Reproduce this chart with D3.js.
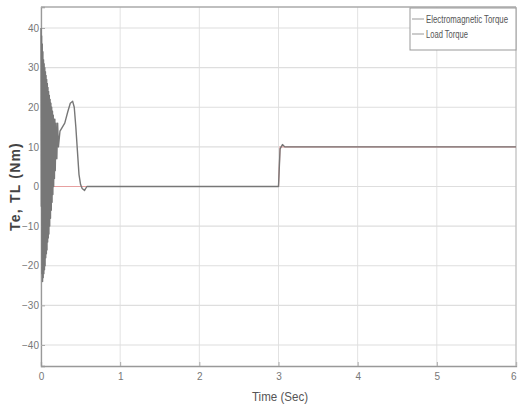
<!DOCTYPE html>
<html>
<head>
<meta charset="utf-8">
<script src="https://cdn.jsdelivr.net/npm/d3@7"></script>
<style>
  body { margin: 0; background: #fff; }
  svg { display: block; font-family: "Liberation Sans", Arial, sans-serif; }
</style>
</head>
<body>
<div id="chart"></div>
<script>
// time (s) and electromagnetic torque (Nm)
var teTime = [0, 0.004, 0.008, 0.012, 0.016, 0.02, 0.024, 0.028, 0.032, 0.036, 0.04, 0.044, 0.048,
  0.052, 0.056, 0.06, 0.064, 0.068, 0.072, 0.076, 0.08, 0.084, 0.088, 0.092, 0.096, 0.1,
  0.105, 0.11, 0.115, 0.12, 0.125, 0.13, 0.135, 0.14, 0.145, 0.15, 0.155, 0.16, 0.165, 0.17,
  0.175, 0.18, 0.19, 0.2, 0.21, 0.22, 0.24, 0.27, 0.3, 0.34, 0.37, 0.4, 0.42, 0.44, 0.46,
  0.48, 0.5, 0.52, 0.55, 0.58, 0.6, 3.0, 3.02, 3.05, 3.08, 6.0];
var teValue = [40, -5, 38, -22, 36, -24, 34, -23, 32, -22, 31, -21, 30,
  -20, 29, -18, 28, -17, 27, -16, 26, -14, 25, -13, 24, -12,
  23, -10, 22, -8, 21, -6, 20, -4, 19, -2, 18, 0, 17, 2,
  17, 4, 16, 7, 16, 10, 14, 15, 16, 19, 21, 21.5, 20, 15, 9,
  3, 0.5, -0.5, -1, 0, 0, 0, 9.5, 10.6, 10, 10];

// load torque
var tlTime = [0, 3.0, 3.02, 6.0];
var tlValue = [0, 0, 10, 10];

var xTicks = [0, 1, 2, 3, 4, 5, 6];
var yTicks = [-40, -30, -20, -10, 0, 10, 20, 30, 40];
var legendLabels = ["Electromagnetic Torque", "Load Torque"];

var W = 519, H = 407;
var margin = {left: 41, right: 3, top: 7, bottom: 41};

var svg = d3.select('#chart').append('svg')
  .attr('width', W).attr('height', H);

var x = d3.scaleLinear().domain([0, 6]).range([margin.left, W - margin.right]);
var y = d3.scaleLinear().domain([-45.3, 45.3]).range([H - margin.bottom, margin.top]);

// grid
svg.append('g').selectAll('line.gx')
  .data(xTicks).enter().append('line')
  .attr('x1', function(d) { return x(d); }).attr('x2', function(d) { return x(d); })
  .attr('y1', y.range()[1]).attr('y2', y.range()[0])
  .attr('stroke', '#e2e2e2').attr('stroke-width', 1);
svg.append('g').selectAll('line.gy')
  .data(yTicks).enter().append('line')
  .attr('y1', function(d) { return y(d); }).attr('y2', function(d) { return y(d); })
  .attr('x1', x.range()[0]).attr('x2', x.range()[1])
  .attr('stroke', '#dedede').attr('stroke-width', 1.2);

// axes
var xAxis = d3.axisBottom(x).tickValues(xTicks).tickFormat(d3.format('d')).tickSize(-4).tickPadding(7);
var yAxis = d3.axisLeft(y).tickValues(yTicks).tickFormat(d3.format('d')).tickSize(-4).tickPadding(2);

var gx = svg.append('g').attr('transform', 'translate(0,' + y.range()[0] + ')').call(xAxis);
var gy = svg.append('g').attr('transform', 'translate(' + x.range()[0] + ',0)').call(yAxis);
[gx, gy].forEach(function(g) {
  g.select('.domain').attr('stroke', '#999').attr('stroke-width', 1.3);
  g.selectAll('.tick line').attr('stroke', '#aaa');
  g.selectAll('.tick text').attr('fill', '#777').attr('font-size', 10);
});
gx.selectAll('.tick text').filter(function(d) { return d === 6; }).attr('text-anchor', 'end');

// top / right border
svg.append('line').attr('x1', x.range()[0]).attr('x2', x.range()[1])
  .attr('y1', y.range()[1]).attr('y2', y.range()[1]).attr('stroke', '#aaa').attr('stroke-width', 1.3);
svg.append('line').attr('x1', x.range()[1]).attr('x2', x.range()[1])
  .attr('y1', y.range()[1]).attr('y2', y.range()[0]).attr('stroke', '#bbb');

// lines
var line = d3.line()
  .x(function(d) { return x(d[0]); })
  .y(function(d) { return y(d[1]); });

svg.append('path')
  .datum(tlTime.map(function(t, i) { return [t, tlValue[i]]; }))
  .attr('d', line).attr('fill', 'none')
  .attr('stroke', '#e7a0a0').attr('stroke-width', 1.2);

svg.append('path')
  .datum(teTime.map(function(t, i) { return [t, teValue[i]]; }))
  .attr('d', line).attr('fill', 'none')
  .attr('stroke', '#777').attr('stroke-width', 1.4)
  .attr('stroke-linejoin', 'round');

// labels
svg.append('text')
  .attr('transform', 'translate(20,' + y(0) + ') rotate(-90)')
  .attr('text-anchor', 'middle')
  .attr('font-weight', 'bold').attr('font-size', 14)
  .attr('letter-spacing', 1.2)
  .attr('fill', '#444')
  .text('Te, TL (Nm)');

svg.append('text')
  .attr('x', 280).attr('y', 401)
  .attr('text-anchor', 'middle')
  .attr('font-size', 13)
  .attr('textLength', 56).attr('lengthAdjust', 'spacingAndGlyphs')
  .attr('fill', '#555')
  .text('Time (Sec)');

// legend
var lg = svg.append('g').attr('transform', 'translate(410,8)');
lg.append('rect').attr('width', 106).attr('height', 42)
  .attr('fill', '#fff').attr('stroke', '#999');
var legendLen = [82, 42];
legendLabels.forEach(function(lab, i) {
  var yy = 11 + i * 15;
  lg.append('line').attr('x1', 2).attr('x2', 14).attr('y1', yy).attr('y2', yy)
    .attr('stroke', '#999');
  lg.append('text').attr('x', 16).attr('y', yy + 3.5)
    .attr('font-size', 10)
    .attr('textLength', legendLen[i]).attr('lengthAdjust', 'spacingAndGlyphs')
    .attr('fill', '#555')
    .text(lab);
});
</script>
</body>
</html>
